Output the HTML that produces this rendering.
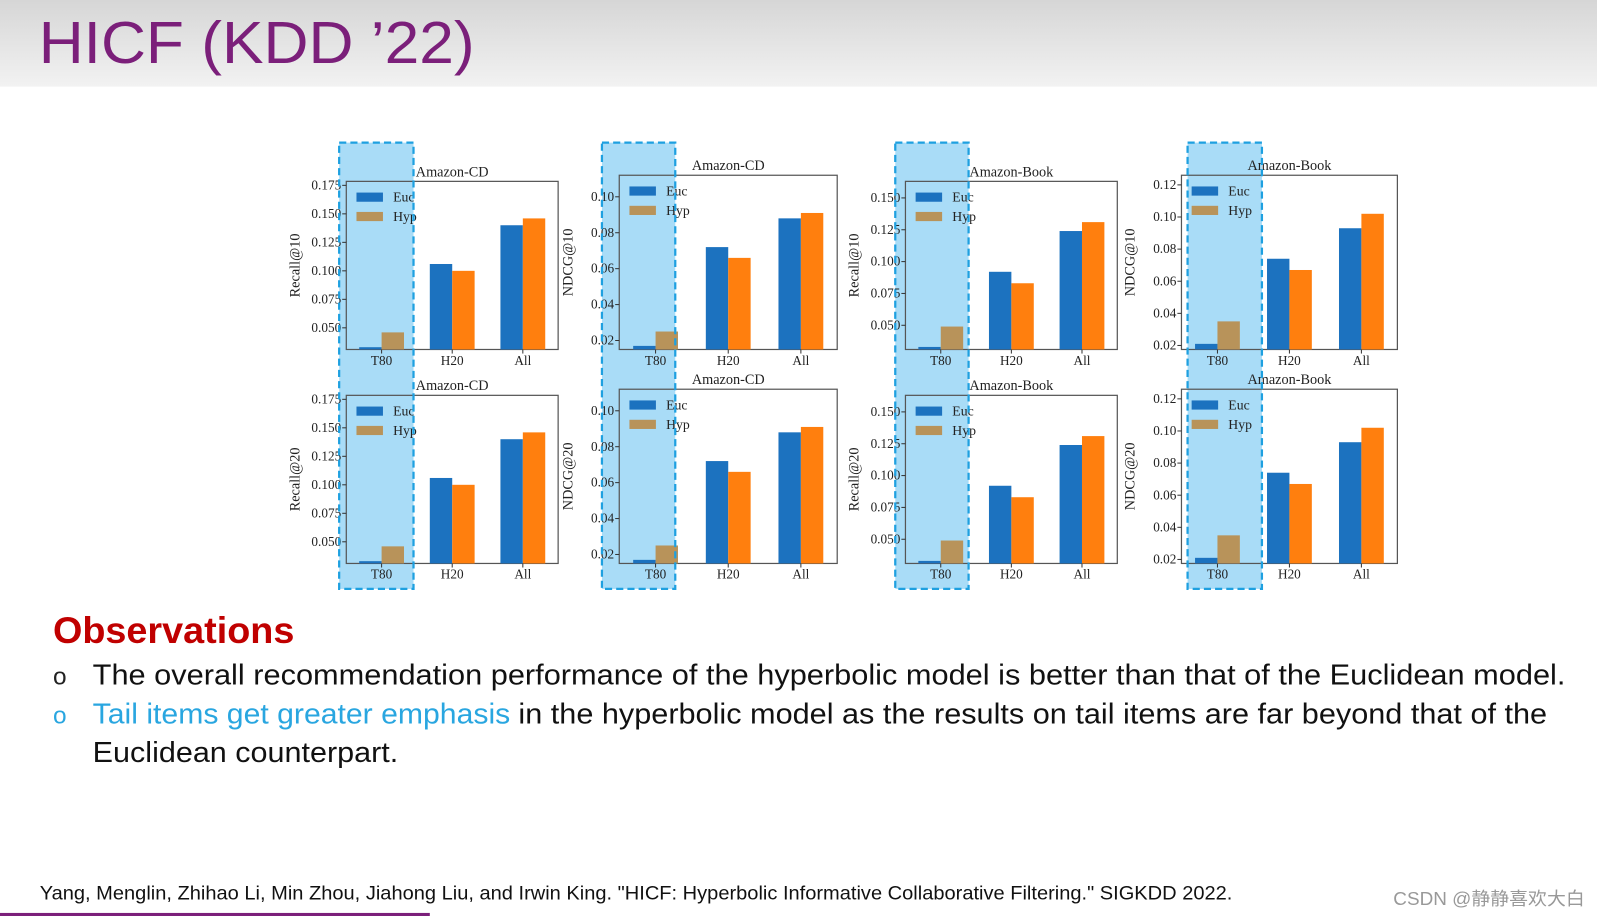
<!DOCTYPE html>
<html><head><meta charset="utf-8"><style>
html,body{margin:0;padding:0;background:#fff;overflow:hidden;width:1597px;height:916px}
#wrap{width:1568px;height:899px;transform:scale(1.0185,1.0189);transform-origin:0 0;position:relative}
svg text{font-family:"Liberation Sans","Noto Sans CJK SC",sans-serif}
.ser{font-family:"Liberation Serif",serif}
</style></head><body>
<div id="wrap">
<svg id="s" width="1568" height="899" viewBox="0 0 1568 899">
<defs><linearGradient id="hg" x1="0" y1="0" x2="0" y2="1"><stop offset="0" stop-color="#d6d6d6"/><stop offset="1" stop-color="#f2f2f2"/></linearGradient></defs>
<rect x="0" y="0" width="1568" height="85" fill="url(#hg)"/>
<text x="38" y="62" font-size="58" fill="#7b1f7a" textLength="428" lengthAdjust="spacingAndGlyphs">HICF (KDD ’22)</text>
<g id="hl"></g>
<g id="charts"></g>
<g id="hlb"></g>
<text x="52" y="631" font-size="36" font-weight="bold" fill="#c00000" textLength="237" lengthAdjust="spacingAndGlyphs">Observations</text>
<text x="52" y="672" font-size="24" fill="#222">o</text>
<text x="91" y="672" font-size="28" fill="#111" textLength="1446" lengthAdjust="spacingAndGlyphs">The overall recommendation performance of the hyperbolic model is better than that of the Euclidean model.</text>
<text x="52" y="710" font-size="24" fill="#29a6e0">o</text>
<text x="91" y="710" font-size="28" fill="#29a6e0" textLength="410" lengthAdjust="spacingAndGlyphs">Tail items get greater emphasis</text>
<text x="509" y="710" font-size="28" fill="#111" textLength="1010" lengthAdjust="spacingAndGlyphs">in the hyperbolic model as the results on tail items are far beyond that of the</text>
<text x="91" y="748" font-size="28" fill="#111" textLength="300" lengthAdjust="spacingAndGlyphs">Euclidean counterpart.</text>
<text x="39" y="883" font-size="19" fill="#111" textLength="1171" lengthAdjust="spacingAndGlyphs">Yang, Menglin, Zhihao Li, Min Zhou, Jiahong Liu, and Irwin King. "HICF: Hyperbolic Informative Collaborative Filtering."  SIGKDD 2022.</text>
<text x="1368" y="888" font-size="18" fill="#999" textLength="188" lengthAdjust="spacingAndGlyphs">CSDN @静静喜欢大白</text>
<rect x="0" y="896" width="422" height="3" fill="#7b1f7a"/>
</svg></div>
<script>
const categories=["T80","H20","All"];
const eucRecallCD=[0.033,0.106,0.140];
const hypRecallCD=[0.046,0.100,0.146];
const eucNdcgCD=[0.017,0.072,0.088];
const hypNdcgCD=[0.025,0.066,0.091];
const eucRecallBook=[0.033,0.092,0.124];
const hypRecallBook=[0.049,0.083,0.131];
const eucNdcgBook=[0.021,0.074,0.093];
const hypNdcgBook=[0.035,0.067,0.102];
const recallTicks=["0.050","0.075","0.100","0.125","0.150","0.175"];
const recallBookTicks=["0.050","0.075","0.100","0.125","0.150"];
const ndcgTicks=["0.02","0.04","0.06","0.08","0.10"];
const ndcgBookTicks=["0.02","0.04","0.06","0.08","0.10","0.12"];
const NS="http://www.w3.org/2000/svg";
const g=document.getElementById('charts');
const hlg=document.getElementById('hl');
const hlb=document.getElementById('hlb');
function mk(t,a,p){const e=document.createElementNS(NS,t);for(const k in a)e.setAttribute(k,a[k]);(p||g).appendChild(e);return e;}
const panels=[
 {x0:340,x1:548,t:178,b:343,min:0.031,max:0.1785,title:"Amazon-CD",yl:"Recall@10",ticks:recallTicks,e:eucRecallCD,h:hypRecallCD,hl:[333,406]},
 {x0:608,x1:822,t:172,b:343,min:0.015,max:0.112,title:"Amazon-CD",yl:"NDCG@10",ticks:ndcgTicks,e:eucNdcgCD,h:hypNdcgCD,hl:[591,663]},
 {x0:889,x1:1097,t:178,b:343,min:0.031,max:0.163,title:"Amazon-Book",yl:"Recall@10",ticks:recallBookTicks,e:eucRecallBook,h:hypRecallBook,hl:[879,951]},
 {x0:1160,x1:1372,t:172,b:343,min:0.0175,max:0.126,title:"Amazon-Book",yl:"NDCG@10",ticks:ndcgBookTicks,e:eucNdcgBook,h:hypNdcgBook,hl:[1166,1239]}
];
panels.forEach((p,i)=>{
 const h=mk('rect',{x:p.hl[0],y:140,width:p.hl[1]-p.hl[0],height:438,fill:'#a9dcf7'},hlg);
 
 const hb=mk('rect',{x:p.hl[0],y:140,width:p.hl[1]-p.hl[0],height:438,fill:'none',stroke:'#1ea0e0','stroke-width':2.2,'stroke-dasharray':'7,4'},hlb);
 
});
[0,1].forEach(row=>{panels.forEach((p,i)=>{
 const dy=row*210, t=p.t+dy, b=p.b+dy;
 const y=v=>b-(v-p.min)/(p.max-p.min)*(b-t);
 const w=p.x1-p.x0, step=w/3;
 const x=c=>p.x0+step*(c+0.5);
 const pg=mk('g',{});
 
 
 const bg=mk('rect',{x:p.x0,y:t,width:w,height:b-t,fill:'none',stroke:'#555','stroke-width':1.2},pg);
 
 const tt=mk('text',{x:(p.x0+p.x1)/2,y:t-5,'font-size':14,'text-anchor':'middle',fill:'#222',class:'ser'},pg);
 tt.textContent=p.title;
 const yl=p.yl.replace('10',row?'20':'10');
 const ya=mk('text',{x:0,y:0,'font-size':14,'text-anchor':'middle',fill:'#222',class:'ser',transform:`translate(${p.x0-46},${(t+b)/2}) rotate(-90)`},pg);
 ya.textContent=yl;
 p.ticks.forEach(s=>{const v=parseFloat(s),yy=y(v);
  mk('line',{x1:p.x0-4,x2:p.x0,y1:yy,y2:yy,stroke:'#333'},pg);
  const tx=mk('text',{x:p.x0-5,y:yy+4,'font-size':13,'text-anchor':'end',fill:'#222',class:'ser'},pg);
  tx.textContent=s;});
 categories.forEach((c,ci)=>{
  const bw=22;
  const r1=mk('rect',{x:x(ci)-bw,y:y(p.e[ci]),width:bw,height:b-y(p.e[ci]),fill:'#1c72bf'},pg);
  
  const r2=mk('rect',{x:x(ci),y:y(p.h[ci]),width:bw,height:b-y(p.h[ci]),fill:ci===0?'#b8935a':'#ff7f0e'},pg);
  
  mk('line',{x1:x(ci),x2:x(ci),y1:b,y2:b+4,stroke:'#333'},pg);
  const cl=mk('text',{x:x(ci),y:b+15,'font-size':13,'text-anchor':'middle',fill:'#222',class:'ser'},pg);
  cl.textContent=c;
 });
 const lx=p.x0+10, ly=t+10;
 const lg=mk('g',{},pg);
 mk('rect',{x:lx,y:ly+1,width:26,height:9,fill:'#1c72bf'},lg);
 const l1=mk('text',{x:lx+36,y:ly+10,'font-size':13.5,fill:'#222',class:'ser'},lg);l1.textContent='Euc';
 
 mk('rect',{x:lx,y:ly+20,width:26,height:9,fill:'#b8935a'},lg);
 const l2=mk('text',{x:lx+36,y:ly+29,'font-size':13.5,fill:'#222',class:'ser'},lg);l2.textContent='Hyp';
 
});});
</script>
</body></html>
